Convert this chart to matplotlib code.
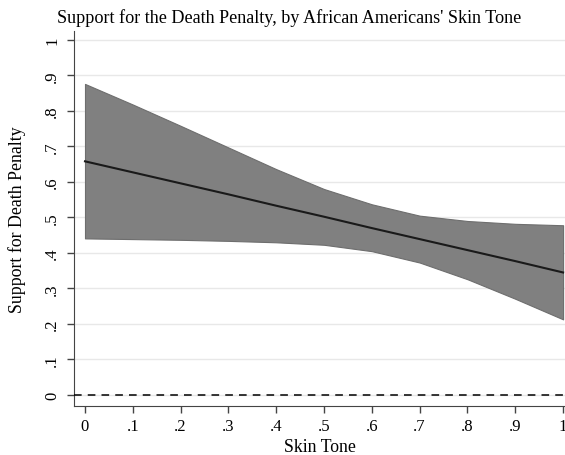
import matplotlib
matplotlib.use('Agg')
import matplotlib.pyplot as plt

# Predicted support and 95% CI across skin tone
skin_tone = [0, .1, .2, .3, .4, .5, .6, .7, .8, .9, 1]
predicted = [.658, .627, .596, .565, .533, .502, .470, .439, .408, .377, .345]
ci_upper = [.876, .818, .758, .697, .636, .580, .537, .505, .490, .482, .478]
ci_lower = [.441, .439, .437, .434, .430, .423, .405, .373, .326, .271, .213]

ticks = [0, .1, .2, .3, .4, .5, .6, .7, .8, .9, 1]
tick_labels = ['0', '.1', '.2', '.3', '.4', '.5', '.6', '.7', '.8', '.9', '1']

plt.rcParams['font.family'] = 'Liberation Serif'

fig = plt.figure(figsize=(5.65, 4.56), dpi=100)
ax = fig.add_axes([74 / 565, 49 / 456, 491 / 565, 375 / 456])

ax.fill_between(skin_tone, ci_lower, ci_upper, facecolor='#808080',
                edgecolor='#6e6e6e', linewidth=0.8, zorder=2)
ax.plot(skin_tone, predicted, color='#1a1a1a', linewidth=1.5, zorder=3)
ax.axhline(0, color='black', linestyle=(0, (5, 4)), linewidth=1.1, zorder=3)

ax.set_xlim(-0.023, 1.004)
ax.set_ylim(-0.031, 1.025)
ax.set_xticks(ticks)
ax.set_xticklabels(tick_labels)
ax.set_yticks(ticks)
ax.set_yticklabels(tick_labels, rotation=90, va='center')
ax.tick_params(labelsize=12, length=5, width=1, color='#444444')
ax.tick_params(axis='y', pad=5)
ax.grid(axis='y', color='#e8e8e8', linewidth=1)
ax.set_axisbelow(True)

for side in ['top', 'right']:
    ax.spines[side].set_visible(False)
for side in ['left', 'bottom']:
    ax.spines[side].set_color('#444444')

ax.set_xlabel('Skin Tone', fontsize=12.8, labelpad=3)
ax.set_ylabel('Support for Death Penalty', fontsize=12.8, labelpad=13)
fig.text(57 / 565, 1 - 18 / 456,
         "Support for the Death Penalty, by African Americans' Skin Tone",
         fontsize=13.1, va='center', ha='left')

fig.savefig('out.png', dpi=100, facecolor='white')
